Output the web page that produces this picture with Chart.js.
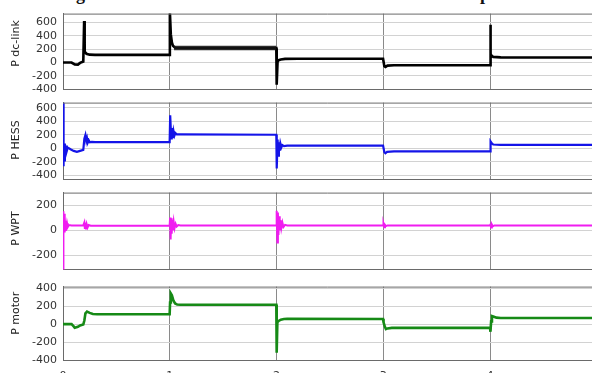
<!DOCTYPE html>
<html>
<head>
<meta charset="utf-8">
<script src="https://cdn.jsdelivr.net/npm/chart.js@4/dist/chart.umd.min.js"></script>
<style>
  html, body { margin: 0; padding: 0; background: #fff; overflow: hidden; width: 592px; height: 373px; }
  .panel { position: absolute; left: 0; width: 592px; }
  .cap { position: absolute; font: bold 18px "Liberation Serif", serif; line-height: 18px; color: #111; white-space: pre; }
</style>
</head>
<body>
<div class="cap" style="left:76px; top:-15px;">g</div>
<div class="cap" style="left:480px; top:-15px;">p</div>
<div class="panel" style="top:1px; height:101px;"><canvas id="dclink"></canvas></div>
<div class="panel" style="top:90px; height:102px;"><canvas id="hess"></canvas></div>
<div class="panel" style="top:180px; height:102px;"><canvas id="wpt"></canvas></div>
<div class="panel" style="top:274px; height:106px;"><canvas id="motor"></canvas></div>
<script>
// time axis ticks (s)
const timeTicks = [0, 1, 2, 3, 4];

// y tick labels per panel
const dcLinkTicks = [-400, -200, 0, 200, 400, 600];
const hessTicks   = [-400, -200, 0, 200, 400, 600];
const wptTicks    = [-200, 0, 200];
const motorTicks  = [-400, -200, 0, 200, 400];

// DC-link power
const dcLinkT = [0, 0.08, 0.11, 0.14, 0.16, 0.19, 0.196, 0.198, 0.203, 0.21, 0.22, 0.25, 0.3, 0.999,
                 1.0, 1.002, 1.01, 1.02, 1.03, 1.05, 1.998,
                 2.0, 2.003, 2.01, 2.02, 2.04, 2.08, 2.2, 2.998,
                 3.0, 3.01, 3.02, 3.04, 3.1, 3.998,
                 4.0, 4.002, 4.008, 4.015, 4.03, 4.1, 4.955];
const dcLinkP = [0, 0, -28, -30, -5, 15, 15, 620, 160, 150, 130, 118, 115, 115,
                 115, 760, 420, 300, 250, 222, 215,
                 215, -330, 20, 35, 45, 55, 58, 58,
                 58, -55, -65, -45, -40, -40,
                 -40, 565, 130, 100, 85, 78, 75];
// ripple envelope on the DC link between t = 1 s and 2 s
const dcRippleT  = [1.04, 1.998];
const dcRippleHi = [250, 250];
const dcRippleLo = [182, 182];

// HESS power
const hessT = [0, 0.003, 0.008, 0.013, 0.018, 0.024, 0.03, 0.036, 0.045, 0.05, 0.07, 0.1, 0.13, 0.16, 0.19,
               0.2, 0.21, 0.218, 0.225, 0.233, 0.242, 0.252, 0.27, 0.3, 0.999,
               1.0, 1.004, 1.012, 1.018, 1.024, 1.03, 1.036, 1.044, 1.052, 1.065, 1.1, 1.998,
               2.0, 2.004, 2.01, 2.016, 2.022, 2.028, 2.036, 2.045, 2.055, 2.07, 2.1, 2.998,
               3.0, 3.01, 3.02, 3.035, 3.1, 3.998,
               4.0, 4.005, 4.015, 4.03, 4.1, 4.955];
const hessP = [680, -270, 80, -180, 70, -100, 40, -40, 10, 5, -15, -40, -55, -40, -25,
               140, 195, 110, 150, 85, 115, 88, 95, 90, 90,
               90, 490, 200, 130, 300, 150, 250, 190, 225, 205, 205, 200,
               200, -300, 130, -110, 90, -40, 70, 10, 45, 30, 38, 38,
               38, -60, -75, -55, -47, -47,
               -47, 100, 75, 55, 50, 50];

// WPT power
const wptT = [0, 0.002, 0.006, 0.01, 0.014, 0.018, 0.022, 0.027, 0.032, 0.038, 0.045, 0.055, 0.08, 0.19,
              0.2, 0.205, 0.21, 0.215, 0.222, 0.23, 0.24, 0.26, 0.999,
              1.0, 1.003, 1.008, 1.013, 1.018, 1.024, 1.03, 1.037, 1.045, 1.055, 1.065, 1.08, 1.1, 1.998,
              2.0, 2.003, 2.008, 2.013, 2.018, 2.024, 2.03, 2.037, 2.045, 2.055, 2.065, 2.08, 2.1, 2.998,
              3.0, 3.004, 3.01, 3.016, 3.025, 3.04, 3.998,
              4.0, 4.004, 4.01, 4.016, 4.025, 4.04, 4.955];
const wptP = [-315, 150, -40, 130, -20, 100, 0, 75, 15, 55, 25, 40, 37, 37,
              60, 10, 55, 5, 45, 20, 40, 35, 37,
              37, 100, -75, 95, -30, 80, 0, 65, 15, 50, 28, 40, 37, 37,
              37, 155, -100, 140, -40, 110, 0, 80, 15, 60, 25, 42, 37, 37,
              37, 50, 22, 42, 32, 37, 37,
              37, 50, 20, 45, 30, 37, 37];

// motor power
const motorT = [0, 0.08, 0.1, 0.11, 0.14, 0.16, 0.19, 0.2, 0.21, 0.225, 0.25, 0.28, 0.32, 0.999,
                1.0, 1.003, 1.01, 1.02, 1.035, 1.05, 1.07, 1.1, 1.998,
                2.0, 2.003, 2.008, 2.02, 2.04, 2.07, 2.1, 2.998,
                3.0, 3.005, 3.015, 3.025, 3.04, 3.08, 3.998,
                4.0, 4.004, 4.01, 4.018, 4.03, 4.06, 4.1, 4.955];
const motorP = [0, 0, -25, -40, -30, -15, -5, 40, 120, 140, 125, 113, 110, 110,
                110, 240, 340, 320, 260, 230, 218, 215, 215,
                215, -320, 20, 35, 50, 57, 58, 57,
                57, 20, -30, -55, -48, -42, -42,
                -42, -85, 30, 90, 85, 72, 68, 68];

const toPoints = (t, v) => t.map((x, i) => ({ x, y: v[i] }));

const TICK_FONT = { family: '"DejaVu Sans", sans-serif', size: 11 };
const TICK_COLOR = '#333';

// rotated y-axis caption
const sideLabel = {
  id: 'sideLabel',
  afterDraw(chart, args, opts) {
    const { ctx, chartArea } = chart;
    ctx.save();
    ctx.translate(opts.x, (chartArea.top + chartArea.bottom) / 2 + opts.shift);
    ctx.rotate(-Math.PI / 2);
    ctx.font = '11px "DejaVu Sans", sans-serif';
    ctx.fillStyle = '#222';
    ctx.textAlign = 'center';
    ctx.textBaseline = 'middle';
    ctx.fillText(opts.text, 0, 0);
    ctx.restore();
  }
};

// top edge of the axes box
const topFrame = {
  id: 'topFrame',
  afterDatasetsDraw(chart) {
    const { ctx, chartArea } = chart;
    ctx.save();
    ctx.strokeStyle = '#6a6a6a';
    ctx.lineWidth = 1;
    ctx.beginPath();
    ctx.moveTo(chartArea.left, chartArea.top + 0.5);
    ctx.lineTo(chartArea.right, chartArea.top + 0.5);
    ctx.stroke();
    ctx.restore();
  }
};

function panel(id, opts) {
  const isBottom = !!opts.showTime;
  new Chart(document.getElementById(id), {
    type: 'line',
    data: { datasets: opts.datasets },
    options: {
      responsive: true,
      maintainAspectRatio: false,
      animation: false,
      events: [],
      layout: { padding: { left: 0, right: 0, top: 10, bottom: isBottom ? 0 : 10 } },
      elements: { point: { radius: 0 }, line: { tension: 0 } },
      plugins: {
        legend: { display: false },
        tooltip: { enabled: false },
        sideLabel: { text: opts.label, x: 16, shift: opts.shift },
        filler: { propagate: false }
      },
      scales: {
        x: {
          type: 'linear',
          min: 0,
          max: 4.955,
          afterBuildTicks: s => { s.ticks = timeTicks.map(v => ({ value: v })); },
          afterFit: s => { s.height = isBottom ? 20 : 0; },
          grid: { color: '#8a8a8a', lineWidth: 1, drawTicks: false },
          border: { display: true, color: '#6a6a6a' },
          ticks: { display: isBottom, padding: 10, font: TICK_FONT, color: TICK_COLOR, maxRotation: 0 }
        },
        y: {
          min: opts.min,
          max: opts.max,
          afterBuildTicks: s => { s.ticks = opts.ticks.map(v => ({ value: v })); },
          afterFit: s => { s.width = 63; },
          grid: { color: '#d2d2d2', lineWidth: 1, drawTicks: false },
          border: { display: true, color: '#6a6a6a' },
          ticks: { padding: 6, font: TICK_FONT, color: TICK_COLOR }
        }
      }
    },
    plugins: [sideLabel, topFrame]
  });
}

function trace(t, v, color, width) {
  return { data: toPoints(t, v), borderColor: color, borderWidth: width, fill: false, pointRadius: 0 };
}

panel('dclink', {
  label: 'P dc-link', shift: -8, min: -400, max: 730, ticks: dcLinkTicks,
  datasets: [
    { data: toPoints(dcRippleT, dcRippleHi), borderWidth: 0, borderColor: 'rgba(0,0,0,0)', fill: false, pointRadius: 0 },
    { data: toPoints(dcRippleT, dcRippleLo), borderWidth: 0, borderColor: 'rgba(0,0,0,0)', backgroundColor: 'rgba(20,20,20,0.85)', fill: '-1', pointRadius: 0 },
    trace(dcLinkT, dcLinkP, '#000000', 2.6)
  ]
});

panel('hess', {
  label: 'P HESS', shift: -1, min: -464, max: 678, ticks: hessTicks,
  datasets: [trace(hessT, hessP, '#1414e8', 2.2)]
});

panel('wpt', {
  label: 'P WPT', shift: -2.5, min: -315, max: 300, ticks: wptTicks,
  datasets: [trace(wptT, wptP, '#f01cf0', 2.0)]
});

panel('motor', {
  label: 'P motor', shift: -10, min: -400, max: 418, ticks: motorTicks, showTime: true,
  datasets: [trace(motorT, motorP, '#168a16', 2.6)]
});
</script>
</body>
</html>
